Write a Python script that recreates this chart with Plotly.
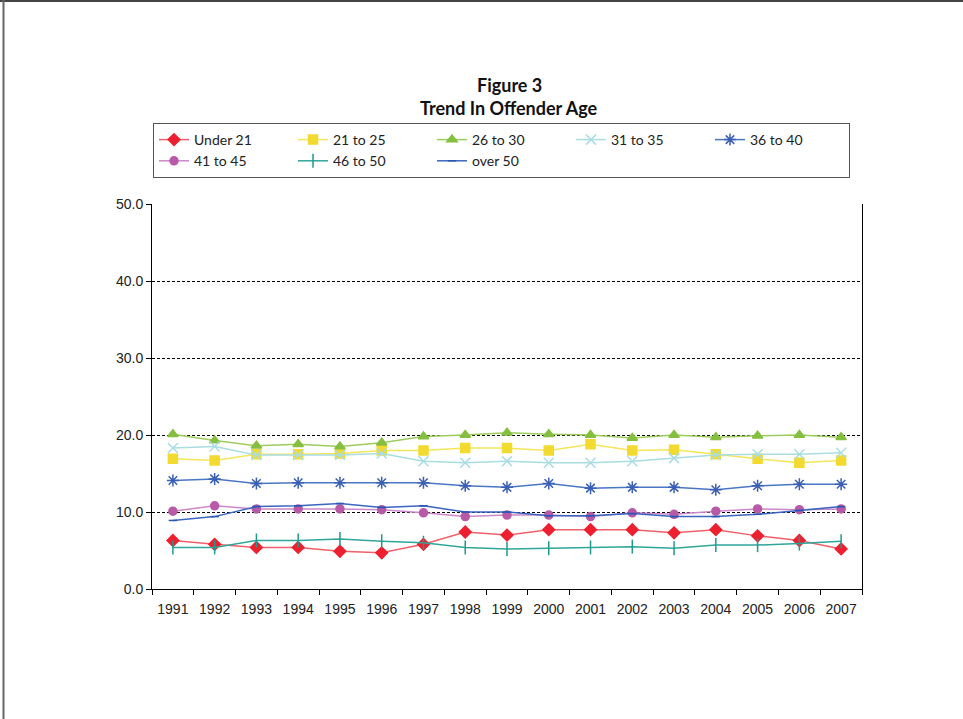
import plotly.graph_objects as go

years = [str(y) for y in range(1991, 2008)]

under_21 = [6.3, 5.8, 5.4, 5.4, 4.9, 4.7, 5.8, 7.4, 7.0, 7.7, 7.7, 7.7, 7.3, 7.7, 6.9, 6.3, 5.2]
age_21_25 = [16.9, 16.7, 17.5, 17.5, 17.6, 18.0, 18.0, 18.3, 18.3, 18.0, 18.8, 18.0, 18.1, 17.5, 16.9, 16.4, 16.7]
age_26_30 = [20.1, 19.3, 18.6, 18.8, 18.5, 19.0, 19.8, 20.0, 20.3, 20.1, 20.0, 19.6, 20.0, 19.7, 19.9, 20.0, 19.7]
age_31_35 = [18.3, 18.5, 17.4, 17.4, 17.4, 17.6, 16.6, 16.4, 16.6, 16.4, 16.4, 16.6, 17.0, 17.4, 17.5, 17.5, 17.7]
age_36_40 = [14.1, 14.3, 13.7, 13.8, 13.8, 13.8, 13.8, 13.4, 13.2, 13.7, 13.1, 13.2, 13.2, 12.9, 13.4, 13.6, 13.6]
age_41_45 = [10.1, 10.8, 10.4, 10.4, 10.4, 10.3, 9.9, 9.4, 9.6, 9.6, 9.4, 9.9, 9.7, 10.1, 10.4, 10.3, 10.4]
age_46_50 = [5.4, 5.4, 6.3, 6.3, 6.5, 6.2, 6.0, 5.4, 5.2, 5.3, 5.4, 5.5, 5.3, 5.7, 5.7, 5.9, 6.2]
over_50 = [8.9, 9.4, 10.7, 10.8, 11.1, 10.6, 10.8, 10.0, 10.0, 9.5, 9.5, 9.8, 9.4, 9.4, 9.7, 10.2, 10.7]

y_ticks = [0, 10, 20, 30, 40, 50]

series = [
    ("Under 21", under_21, "#f0606a", "#ee2030", "diamond", 9),
    ("21 to 25", age_21_25, "#f4e55a", "#f2da30", "square", 9),
    ("26 to 30", age_26_30, "#9ccd5c", "#86bf40", "triangle-up", 9),
    ("31 to 35", age_31_35, "#a9dde2", "#a9dde2", "x-thin-open", 10),
    ("36 to 40", age_36_40, "#4a76c4", "#3a5fb4", "asterisk-open", 10),
    ("41 to 45", age_41_45, "#cc88c8", "#b85aa8", "circle", 8),
    ("46 to 50", age_46_50, "#2fa69a", "#1f9a8e", "line-ns-open", 10),
    ("over 50", over_50, "#3a66c0", "#2a56b0", "line-ew-open", 6),
]

fig = go.Figure()
for name, vals, lcol, mcol, sym, size in series:
    fig.add_trace(go.Scatter(
        x=years, y=vals, name=name, mode="lines+markers",
        line=dict(color=lcol, width=1.5),
        marker=dict(symbol=sym, size=size, color=mcol,
                    line=dict(color=mcol, width=1.5)),
    ))

L, R, T, B = 152, 101, 204, 130
W, H = 963, 719
pw, ph = W - L - R, H - T - B

def px_x(p):
    return (p - L) / pw

def px_y(p):
    return (H - B - p) / ph

fig.update_layout(
    width=W, height=H,
    margin=dict(l=L, r=R, t=T, b=B, pad=0, autoexpand=False),
    paper_bgcolor="white", plot_bgcolor="white",
    showlegend=True,
    legend=dict(
        orientation="h", xref="container", yref="container",
        x=153 / W, y=1 - 123 / H, xanchor="left", yanchor="top",
        bordercolor="#555555", borderwidth=1,
        font=dict(family="Lato", size=14, color="#222222"),
        entrywidth=94, entrywidthmode="pixels",
        tracegroupgap=0, itemwidth=30,
    ),
    annotations=[
        dict(text="<b>Figure 3</b>", x=px_x(509), y=px_y(85), xref="paper", yref="paper",
             showarrow=False, font=dict(family="Lato", size=18, color="#111111"),
             xanchor="center", yanchor="middle"),
        dict(text="<b>Trend In Offender Age</b>", x=px_x(509), y=px_y(108), xref="paper", yref="paper",
             showarrow=False, font=dict(family="Lato", size=18, color="#111111"),
             xanchor="center", yanchor="middle"),
    ],
    shapes=[
        dict(type="line", xref="paper", yref="paper", x0=px_x(0), x1=px_x(963),
             y0=px_y(1), y1=px_y(1), line=dict(color="#444444", width=2)),
        dict(type="line", xref="paper", yref="paper", x0=px_x(3.5), x1=px_x(3.5),
             y0=px_y(0), y1=px_y(719), line=dict(color="#666666", width=2)),
    ],
)

fig.update_xaxes(
    type="category", tickson="boundaries", ticks="outside", ticklen=5,
    range=[-0.5, len(years) - 0.5],
    tickcolor="black", showline=True, linecolor="black", linewidth=1,
    showgrid=False, mirror=False, tickangle=0, automargin=False,
    ticklabelstandoff=7,
    tickfont=dict(family="Liberation Sans", size=14, color="#222222"),
)
fig.update_yaxes(
    range=[0, 50], tickvals=y_ticks, tickformat=".1f", ticks="outside", ticklen=5,
    tickcolor="black", showline=True, linecolor="black", linewidth=1, mirror=True,
    showgrid=True, gridcolor="black", gridwidth=1, griddash="3px,2px",
    zeroline=False, automargin=False,
    tickfont=dict(family="Liberation Sans", size=14, color="#222222"),
)

fig.write_html("out.html", post_script="document.body.style.margin='0';",
               config={"displayModeBar": False})
